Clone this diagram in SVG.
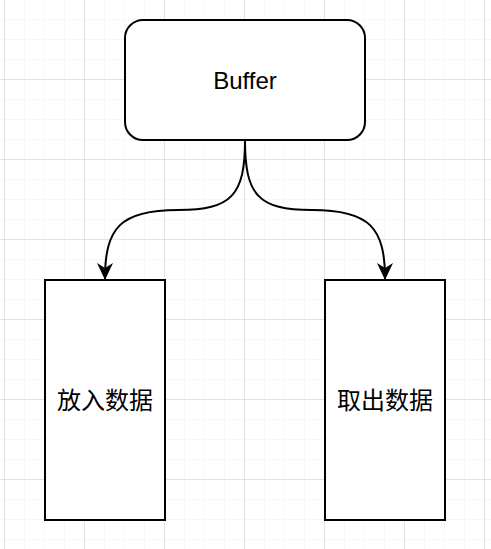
<svg xmlns="http://www.w3.org/2000/svg" width="491" height="549" viewBox="0 0 491 549">
<defs>
<pattern id="minor" x="4" y="-1" width="20" height="20" patternUnits="userSpaceOnUse">
<path d="M0 0H20M0 0V20" fill="none" stroke="#f0f0f0" stroke-width="1"/>
</pattern>
<pattern id="major" x="4" y="-1" width="80" height="80" patternUnits="userSpaceOnUse">
<path d="M0 0H80M0 0V80" fill="none" stroke="#d0d0d0" stroke-width="1"/>
</pattern>
<marker id="arr" viewBox="0 0 17 16" refX="16" refY="8" markerWidth="17" markerHeight="16" markerUnits="userSpaceOnUse" orient="auto">
<path d="M0 0L17 8L0 16L5 8Z" fill="#000"/>
</marker>
<style>
.box{fill:#fff;stroke:#000;stroke-width:2}
.lbl{font-family:"Liberation Sans","Noto Sans CJK SC",sans-serif;font-size:24px;fill:#000;text-anchor:middle;dominant-baseline:central}
.edge{fill:none;stroke:#000;stroke-width:2}
</style>
</defs>
<rect width="491" height="549" fill="#fff"/>
<rect width="491" height="549" fill="url(#minor)"/>
<rect width="491" height="549" fill="url(#major)"/>
<g id="edges">
<path class="edge" d="M245 140C245 195 232 210 178 210C120 210 105 228 105 279" marker-end="url(#arr)"/>
<path class="edge" d="M245 140C245 195 258 210 312 210C370 210 385 228 385 279" marker-end="url(#arr)"/>
</g>
<g id="buffer">
<rect class="box" x="125" y="20" width="240" height="120" rx="18" ry="18"/>
<text class="lbl" x="245" y="80">Buffer</text>
</g>
<g id="put">
<rect class="box" x="45" y="280" width="120" height="240"/>
<text class="lbl" x="105" y="400">放入数据</text>
</g>
<g id="take">
<rect class="box" x="325" y="280" width="120" height="240"/>
<text class="lbl" x="385" y="400">取出数据</text>
</g>
</svg>
